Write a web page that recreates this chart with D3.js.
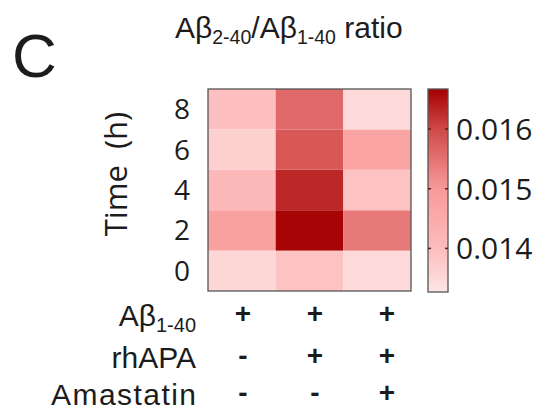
<!DOCTYPE html>
<html>
<head>
<meta charset="utf-8">
<script src="https://cdn.jsdelivr.net/npm/d3@7"></script>
<style>
  body { margin: 0; background: #fff; }
  svg { display: block; }
  text { white-space: pre; }
</style>
</head>
<body>
<svg id="chart" width="544" height="410"></svg>
<script>
// ---------- data ----------
const times = [0, 2, 4, 6, 8];
const groups = ["ctrl", "rhAPA", "rhAPA+Amastatin"];
// Aβ2-40/Aβ1-40 ratio per time point (0,2,4,6,8 h)
const ratioCtrl      = [0.01355, 0.01480, 0.01410, 0.01365, 0.01395];
const ratioRhAPA     = [0.01390, 0.01662, 0.01630, 0.01580, 0.01560];
const ratioAmastatin = [0.01350, 0.01540, 0.01390, 0.01470, 0.01350];
const colorTicks = [0.014, 0.015, 0.016];
const colorDomain = [0.01327, 0.01667];
const signsAbeta = ["+", "+", "+"];
const signsRhAPA = ["-", "+", "+"];
const signsAmastatin = ["-", "-", "+"];

const seriesByGroup = [ratioCtrl, ratioRhAPA, ratioAmastatin];
const cells = [];
groups.forEach((g, gi) => times.forEach((t, ti) => cells.push({ g, t, v: seriesByGroup[gi][ti] })));

// ---------- setup ----------
const svg = d3.select("#chart");
const sansA = "'Liberation Sans', Arial, sans-serif";
const sansB = "'Open Sans', 'Noto Sans', sans-serif";
const ink = "#1c1c1c";

const x = d3.scaleBand().domain(groups).range([208, 411]);
const y = d3.scaleBand().domain(times.slice().reverse()).range([89, 291]);

const color = d3.scaleLinear()
  .domain([colorDomain[0], 0.0140, 0.0150, 0.0160, colorDomain[1]])
  .range(["#fde6e6", "#fdbcbc", "#f89a9a", "#d04848", "#a40000"]);

// ---------- heatmap ----------
svg.append("g").selectAll("rect").data(cells).join("rect")
  .attr("x", d => x(d.g)).attr("y", d => y(d.t))
  .attr("width", x.bandwidth()).attr("height", y.bandwidth())
  .attr("fill", d => color(d.v));

svg.append("rect")
  .attr("x", x.range()[0]).attr("y", y.range()[0])
  .attr("width", x.range()[1] - x.range()[0]).attr("height", y.range()[1] - y.range()[0])
  .attr("fill", "none").attr("stroke", "#555").attr("stroke-width", 1.3);

// y labels
svg.append("g").selectAll("text").data(times).join("text")
  .attr("x", 190).attr("y", d => y(d) + y.bandwidth() / 2)
  .attr("dy", "0.36em").attr("text-anchor", "end")
  .attr("font-family", sansB).attr("font-size", 28).attr("fill", ink)
  .text(d => d);

svg.append("text")
  .attr("transform", "translate(127,174) rotate(-90)")
  .attr("text-anchor", "middle")
  .attr("font-family", sansB).attr("font-size", 31).attr("fill", ink)
  .text("Time  (h)");

// ---------- colorbar ----------
const cb = { x: 428, w: 20 };
const cy = d3.scaleLinear().domain(colorDomain).range([292, 89]);
const defs = svg.append("defs");
const grad = defs.append("linearGradient").attr("id", "cbgrad")
  .attr("x1", 0).attr("y1", 1).attr("x2", 0).attr("y2", 0);
d3.range(0, 1.0001, 0.05).forEach(t => {
  const v = colorDomain[0] + t * (colorDomain[1] - colorDomain[0]);
  grad.append("stop").attr("offset", t).attr("stop-color", color(v));
});
svg.append("rect")
  .attr("x", cb.x).attr("y", cy(colorDomain[1]))
  .attr("width", cb.w).attr("height", cy(colorDomain[0]) - cy(colorDomain[1]))
  .attr("fill", "url(#cbgrad)").attr("stroke", "#555").attr("stroke-width", 1.3);
const tg = svg.append("g").selectAll("g").data(colorTicks).join("g");
tg.append("line").attr("x1", cb.x).attr("x2", cb.x + 3)
  .attr("y1", d => cy(d)).attr("y2", d => cy(d)).attr("stroke", "#5a1a1a").attr("stroke-width", 1.5);
tg.append("line").attr("x1", cb.x + cb.w - 3).attr("x2", cb.x + cb.w)
  .attr("y1", d => cy(d)).attr("y2", d => cy(d)).attr("stroke", "#5a1a1a").attr("stroke-width", 1.5);
tg.append("text").attr("x", 456).attr("y", d => cy(d)).attr("dy", "0.36em")
  .attr("font-family", sansB).attr("font-size", 30).attr("fill", ink)
  .text(d => d3.format(".3f")(d));

// ---------- title & panel letter ----------
svg.append("text").attr("x", 12).attr("y", 77)
  .attr("font-family", sansA).attr("font-size", 62).attr("fill", ink).text("C");

const title = svg.append("text").attr("x", 175).attr("y", 38)
  .attr("font-family", sansA).attr("font-size", 30).attr("fill", ink);
title.append("tspan").text("Aβ");
title.append("tspan").attr("font-size", 19.5).attr("dy", 6).text("2-40");
title.append("tspan").attr("dy", -6).text("/Aβ");
title.append("tspan").attr("font-size", 19.5).attr("dy", 6).text("1-40");
title.append("tspan").attr("dy", -6).text(" ratio");

// ---------- condition table ----------
const sx = d3.scalePoint().domain(groups).range([243, 387]);
const rowsY = [326, 368, 405];
const lab1 = svg.append("text").attr("x", 196).attr("y", rowsY[0]).attr("text-anchor", "end")
  .attr("font-family", sansA).attr("font-size", 30).attr("fill", ink);
lab1.append("tspan").text("Aβ");
lab1.append("tspan").attr("font-size", 20).attr("dy", 6).text("1-40");
svg.append("text").attr("x", 196).attr("y", rowsY[1]).attr("text-anchor", "end")
  .attr("font-family", sansA).attr("font-size", 30).attr("fill", ink).text("rhAPA");
svg.append("text").attr("x", 196).attr("y", rowsY[2]).attr("text-anchor", "end")
  .attr("font-family", sansA).attr("font-size", 30).attr("fill", ink).attr("textLength", 145).text("Amastatin");

[signsAbeta, signsRhAPA, signsAmastatin].forEach((row, ri) => {
  svg.append("g").selectAll("text").data(row).join("text")
    .attr("x", (d, i) => sx(groups[i])).attr("y", rowsY[ri] - 3)
    .attr("text-anchor", "middle")
    .attr("font-family", sansA).attr("font-size", 28).attr("font-weight", "bold").attr("fill", ink)
    .text(d => d);
});
</script>
</body>
</html>
